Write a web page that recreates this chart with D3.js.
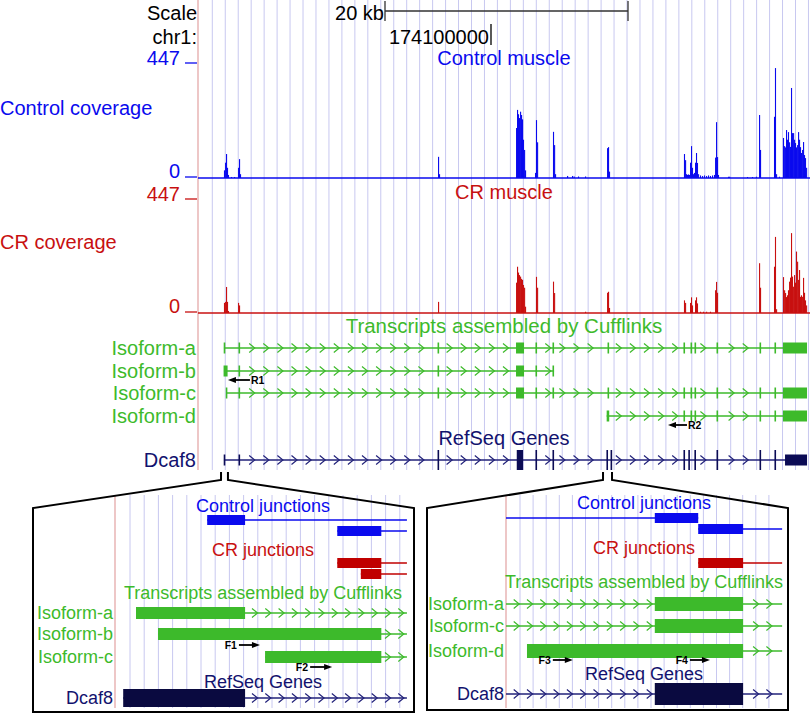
<!DOCTYPE html>
<html><head><meta charset="utf-8">
<script src="https://cdn.jsdelivr.net/npm/d3@7"></script>
<style>body{margin:0;background:#fff}svg{display:block}text{font-family:"Liberation Sans",Arial,Helvetica,sans-serif}</style>
</head><body><svg id="c" width="810" height="713"></svg>
<script>
// ---------------- DATA (genomic positions in kb, relative to chr1:174,000,000) ----------------
const viewKb = [75.885, 126.255];
const scaleBarKb = 20;
const chrTickKb = 100;
const chrTickLabel = "174100000";
const coverageMax = 447;
const binKb = 0.082;

const controlCoverage = [
 [78.02,30],[78.11,60],[78.19,94],[78.27,40],[78.35,12],[78.60,4],[78.85,4],[79.18,40],[79.26,74],[79.34,15],
 [95.64,83],[95.72,15],
 [102.06,196],[102.14,267],[102.22,250],[102.30,235],[102.39,260],[102.47,247],[102.55,230],[102.63,150],[102.72,110],[102.80,30],
 [103.62,20],[103.70,227],[103.79,140],
 [105.10,181],[105.19,129],[105.27,15],
 [106.26,8],[106.67,8],[106.80,6],[107.16,6],[107.74,6],
 [109.55,117],[109.63,121],[109.71,25],
 [115.88,94],[115.97,70],[116.05,15],[116.13,12],[116.21,14],[116.29,12],[116.38,60],[116.46,125],[116.54,40],[116.62,15],[116.70,20],
 [116.79,60],[116.87,98],[116.95,59],[117.04,15],[117.20,10],[117.37,8],[117.53,10],[117.70,8],[117.86,10],[118.02,8],[118.19,10],[118.35,12],
 [118.44,80],[118.52,219],[118.60,82],[118.68,12],
 [119.51,5],[119.60,5],[121.07,4],[121.48,4],[121.80,5],
 [122.06,247],[122.14,110],
 [123.29,240],[123.37,431],[123.46,15],[123.70,5],
 [124.03,157],[124.12,125],[124.20,120],[124.28,188],[124.36,150],[124.44,180],[124.53,140],[124.61,122],[124.69,353],[124.77,176],
 [124.86,176],[124.94,150],[125.02,137],[125.10,120],[125.19,129],[125.27,180],[125.35,150],[125.43,121],[125.51,98],[125.60,110],
 [125.68,141],[125.76,90],[125.84,78],[125.93,40]
];
const crCoverage = [
 [78.02,40],[78.11,44],[78.19,103],[78.27,44],[78.35,8],[79.18,40],[79.26,30],
 [95.64,44],
 [102.06,120],[102.14,183],[102.22,160],[102.30,150],[102.39,144],[102.47,135],[102.55,131],[102.63,111],[102.72,100],[102.80,25],
 [103.70,143],[103.79,100],
 [105.10,124],[105.19,79],
 [107.74,5],
 [109.55,80],[109.63,84],[109.71,20],
 [115.88,50],[115.97,40],[116.38,40],[116.46,62],[116.54,30],[116.79,50],[116.87,62],[116.95,38],
 [117.20,5],[117.45,5],[117.70,5],[118.02,5],[118.44,90],[118.52,123],[118.60,80],
 [122.06,197],[122.14,100],
 [123.29,183],[123.37,301],[123.46,15],
 [124.03,142],[124.12,90],[124.20,79],[124.28,63],[124.36,70],[124.44,90],[124.53,124],[124.61,140],[124.69,316],[124.77,144],
 [124.86,104],[124.94,150],[125.02,120],[125.10,243],[125.19,203],[125.27,131],[125.35,170],[125.43,64],[125.51,70],[125.60,64],
 [125.68,139],[125.76,80],[125.84,50],[125.93,30]
];

const isoformNames = ["Isoform-a","Isoform-b","Isoform-c","Isoform-d"];
const isoformExtents = [[78.02,126.01],[78.02,105.19],[78.19,126.01],[109.52,126.01]];
const isoformA = [[78.00,78.10],[79.22,79.32],[95.60,95.70],[102.06,102.72],[103.66,103.76],[105.06,105.16],[109.59,109.69],
 [115.84,115.94],[116.42,116.52],[116.75,116.85],[118.56,118.66],[122.10,122.20],[123.33,123.43],[124.03,126.01]];
const isoformB = [[77.99,78.32],[79.22,79.32],[95.60,95.70],[102.06,102.72],[103.66,103.76],[105.06,105.19]];
const isoformC = [[78.17,78.27],[79.22,79.32],[95.60,95.70],[102.06,102.72],[103.66,103.76],[105.06,105.16],[109.59,109.69],
 [115.84,115.94],[116.42,116.52],[116.75,116.85],[118.56,118.66],[122.10,122.20],[123.33,123.43],[124.03,126.01]];
const isoformD = [[109.52,109.73],[115.84,115.94],[116.42,116.52],[116.75,116.85],[118.56,118.66],[122.10,122.20],[123.33,123.43],[124.03,126.01]];
const isoformExons = [isoformA, isoformB, isoformC, isoformD];

const geneName = "Dcaf8";
const geneExtent = [78.02,126.01];
const geneExons = [[78.00,78.10,"utr"],[79.22,79.32,"utr"],[95.60,95.70],[102.12,102.64],[103.66,103.76],[105.06,105.16],
 [109.50,109.60],[109.84,109.94],[115.84,115.94],[116.24,116.34],[116.74,116.84],[118.56,118.66],[122.10,122.20],[123.33,123.43],[124.20,126.01,"utr"]];

const mainPrimers = [{name:"R1", row:1, tail:80.16, head:78.35},{name:"R2", row:3, tail:116.13, head:114.57}];
const zoomLeftKb = [77.78, 78.35];
const zoomRightKb = [109.22, 109.96];

// insets (bp offsets from zoom region start)
const insetDomain = [0, 576];
const leftCtrlJunctions = [{box:[180,254], line:[180,570]},{box:[434,520], line:[434,570]}];
const leftCrJunctions = [{box:[434,520], line:[434,570]},{box:[480,520], line:[480,570]}];
const leftIsoNames = ["Isoform-a","Isoform-b","Isoform-c"];
const leftIsoforms = [{box:[41,254], line:[41,570]},{box:[84,520], line:[84,570]},{box:[293,520], line:[293,570]}];
const leftPrimers = [{name:"F1", tail:242, head:283},{name:"F2", tail:381, head:424}];
const leftGene = {box:[16,254], line:[16,570]};

const rightCtrlJunctions = [{box:[305,394], line:[0,394]},{box:[394,486], line:[394,566]}];
const rightCrJunctions = [{box:[394,486], line:[394,566]}];
const rightIsoNames = ["Isoform-a","Isoform-c","Isoform-d"];
const rightIsoforms = [{box:[305,486], line:[0,566]},{box:[305,486], line:[0,566]},{box:[43,486], line:[43,566]}];
const rightPrimers = [{name:"F3", tail:96, head:137},{name:"F4", tail:377, head:418}];
const rightGene = {box:[305,486], line:[0,566]};

// ---------------- STYLE ----------------
const BLUE="#0a0aee", RED="#c81010", GREEN="#3dba2b", NAVY="#12126e", DARK="#0a0a40", GRID="#c8c8f0", BORDER="#e2a2a2";

const svg = d3.select("#c");
const x = d3.scaleLinear().domain(viewKb).range([198, 810]);

function txt(g, px, cy, s, o={}) {
  const size = o.size||20;
  return g.append("text").attr("x",px).attr("y",cy+size*0.36).text(s)
    .attr("font-size",size).attr("fill",o.color||"#000").attr("text-anchor",o.anchor||"start")
    .attr("font-weight",o.weight||null).attr("font-family",o.family||null);
}

// grid
const main = svg.append("g");
main.append("g").selectAll("line").data(d3.range(212.3, 810, 12.96)).join("line")
  .attr("x1",d=>d).attr("x2",d=>d).attr("y1",0).attr("y2",470).attr("stroke",GRID).attr("stroke-width",1);
main.append("line").attr("x1",198).attr("x2",198).attr("y1",0).attr("y2",470).attr("stroke",BORDER).attr("stroke-width",1.2);

// scale row
txt(main,197,13,"Scale",{anchor:"end"});
const sb0 = 385, sb1 = sb0 + (x(viewKb[0]+scaleBarKb)-x(viewKb[0]));
txt(main,sb0-1,13,scaleBarKb+" kb",{anchor:"end"});
main.append("path").attr("d",`M${sb0},1V21M${sb0},11H${sb1}M${sb1},1V21`).attr("stroke","#333").attr("stroke-width",1.3).attr("fill","none");
txt(main,197,37,"chr1:",{anchor:"end"});
txt(main,x(chrTickKb)-2,37,chrTickLabel,{anchor:"end"});
main.append("line").attr("x1",x(chrTickKb)).attr("x2",x(chrTickKb)).attr("y1",24).attr("y2",45).attr("stroke","#000").attr("stroke-width",1.3);

// coverage
function coverage(data, base, top, color, label, title, labelY, titleY) {
  const y = d3.scaleLinear().domain([0,coverageMax]).range([base, top]);
  const g = main.append("g");
  g.selectAll("rect").data(data).join("rect")
    .attr("x",d=>x(d[0])).attr("width",d=>Math.max(1.1,x(d[0]+binKb)-x(d[0])))
    .attr("y",d=>y(d[1])).attr("height",d=>base-y(d[1])).attr("fill",color);
  g.append("line").attr("x1",198).attr("x2",810).attr("y1",base).attr("y2",base).attr("stroke",color).attr("stroke-width",1.5);
  txt(g,180,y(coverageMax)-6,String(coverageMax),{anchor:"end",color});
  txt(g,180,y(0)-7,"0",{anchor:"end",color});
  [coverageMax,0].forEach(v=>g.append("line").attr("x1",185).attr("x2",197).attr("y1",y(v)-1).attr("y2",y(v)-1).attr("stroke",color).attr("stroke-width",1.3));
  txt(g,0,labelY,label,{color});
  txt(g,504,titleY,title,{anchor:"middle",color});
}
coverage(controlCoverage,178,64,BLUE,"Control coverage","Control muscle",108,58);
coverage(crCoverage,313,200,RED,"CR coverage","CR muscle",242,192);

// transcript drawing
function transcript(g, sx, y, extent, exons, o) {
  const x0 = sx(extent[0]), x1 = sx(extent[1]);
  g.append("line").attr("x1",x0).attr("x2",x1).attr("y1",y).attr("y2",y).attr("stroke",o.line||o.color).attr("stroke-width",o.lw||1.4);
  const ex = exons.map(e=>[sx(e[0]), sx(e[1])]);
  if (o.spacing) {
    const ch = d3.range(o.anchor, x1-2, o.spacing).filter(c=>c>x0+3 && !ex.some(([a,b])=>c>a-3 && c<b+5));
    g.append("path").attr("fill","none").attr("stroke",o.line||o.color).attr("stroke-width",1.2)
      .attr("d",ch.map(c=>`M${c-3},${y-4.5}L${c+2.5},${y}L${c-3},${y+4.5}`).join(""));
  }
  g.selectAll(null).data(exons).join("rect")
    .attr("x",d=>sx(d[0])).attr("width",d=>Math.max(o.minW||1.6, sx(d[1])-sx(d[0])))
    .attr("y",d=>y-(d[2]==="utr"?o.utrH:o.h)/2).attr("height",d=>d[2]==="utr"?o.utrH:o.h).attr("fill",o.fill||o.color);
}
function primer(g, sx, y, p, size) {
  const t = sx(p.tail), h = sx(p.head), dir = Math.sign(h-t);
  g.append("line").attr("x1",t).attr("x2",h-dir*6).attr("y1",y).attr("y2",y).attr("stroke","#000").attr("stroke-width",1.8);
  g.append("path").attr("d",`M${h},${y}L${h-dir*8},${y-3}L${h-dir*8},${y+3}Z`).attr("fill","#000");
  txt(g, dir<0 ? t+1 : t-2, y, p.name, {size:size||10.5, anchor: dir<0?"start":"end", weight:"bold", family:"'Liberation Serif','Times New Roman',serif"});
}

// cufflinks track
const isoY = [348,371,393,416];
txt(main,504,326,"Transcripts assembled by Cufflinks",{anchor:"middle",color:GREEN,size:20.5});
isoformNames.forEach((n,i)=>{
  txt(main,196,isoY[i],n,{anchor:"end",color:GREEN});
  transcript(main,x,isoY[i],isoformExtents[i],isoformExons[i],{color:GREEN,h:11,utrH:11,spacing:14.1,anchor:209.9});
});
mainPrimers.forEach(p=>primer(main,x,isoY[p.row]+9,p));

// refseq
txt(main,504,438,"RefSeq Genes",{anchor:"middle",color:NAVY});
txt(main,196,460,geneName,{anchor:"end",color:NAVY});
transcript(main,x,460,geneExtent,geneExons,{color:"#0b0b55",line:"#22227a",h:20,utrH:11,spacing:14.1,anchor:209.9});

// ---------------- INSETS ----------------
function inset(o) {
  const g = svg.append("g");
  const sx = d3.scaleLinear().domain(insetDomain).range(o.range);
  g.append("g").selectAll("line").data(d3.range(o.gridStart, o.gridEnd, o.gridStep)).join("line")
    .attr("x1",d=>d).attr("x2",d=>d).attr("y1",495).attr("y2",708).attr("stroke",GRID).attr("stroke-width",1);
  g.append("line").attr("x1",o.range[0]).attr("x2",o.range[0]).attr("y1",495).attr("y2",708).attr("stroke",BORDER).attr("stroke-width",1.2);
  const a = x(o.zoomKb[0]), b = x(o.zoomKb[1]);
  g.append("path").attr("fill","none").attr("stroke","#000").attr("stroke-width",2).attr("stroke-linejoin","miter")
    .attr("d",`M${a},472V480L${o.box[0]},508V${o.box[2]}H${o.box[1]}V508L${b},480V472`);
  const Y = o.y;
  txt(g,o.cx,Y.ctrlT,"Control junctions",{anchor:"middle",color:BLUE,size:18});
  o.ctrl.forEach((j,i)=>transcript(g,sx,Y.ctrl[i],j.line,[j.box],{color:BLUE,h:10,lw:1.4,minW:1}));
  txt(g,o.cx,Y.crT,"CR junctions",{anchor:"middle",color:RED,size:18});
  o.cr.forEach((j,i)=>transcript(g,sx,Y.cr[i],j.line,[j.box],{color:"#c00000",h:10,lw:1.4,minW:1}));
  txt(g,o.cx,Y.txT,"Transcripts assembled by Cufflinks",{anchor:"middle",color:GREEN,size:18});
  o.iso.forEach((t,i)=>{
    txt(g,o.range[0]-2,Y.iso[i],o.isoNames[i],{anchor:"end",color:GREEN,size:18});
    transcript(g,sx,Y.iso[i],t.line,[t.box],{color:GREEN,h:o.isoH,spacing:13.3,anchor:o.chevAnchor});
  });
  o.primers.forEach((p,i)=>primer(g,sx,Y.pr[i],p));
  txt(g,o.cx,Y.rsT,"RefSeq Genes",{anchor:"middle",color:NAVY,size:18});
  txt(g,o.range[0]-2,Y.gene,geneName,{anchor:"end",color:NAVY,size:18});
  transcript(g,sx,Y.gene,o.gene.line,[o.gene.box],{color:DARK,line:"#22227a",h:o.geneH,spacing:13.3,anchor:o.chevAnchor});
}
inset({range:[115,410], gridStart:130, gridEnd:405, gridStep:14.2, zoomKb:zoomLeftKb, box:[33,414,712], cx:263,
  ctrl:leftCtrlJunctions, cr:leftCrJunctions, iso:leftIsoforms, isoNames:leftIsoNames, primers:leftPrimers, gene:leftGene,
  isoH:12, geneH:18, chevAnchor:122,
  y:{ctrlT:506, ctrl:[520,531], crT:550, cr:[563,574], txT:593, iso:[613,634,657], pr:[645,667], rsT:682, gene:698}});
inset({range:[506,787], gridStart:520, gridEnd:775, gridStep:13.1, zoomKb:zoomRightKb, box:[427,788,710], cx:644,
  ctrl:rightCtrlJunctions, cr:rightCrJunctions, iso:rightIsoforms, isoNames:rightIsoNames, primers:rightPrimers, gene:rightGene,
  isoH:14, geneH:22, chevAnchor:516.7,
  y:{ctrlT:503, ctrl:[518,529], crT:548, cr:[563], txT:582, iso:[604,626,651], pr:[660,660], rsT:674, gene:694}});
</script></body></html>
